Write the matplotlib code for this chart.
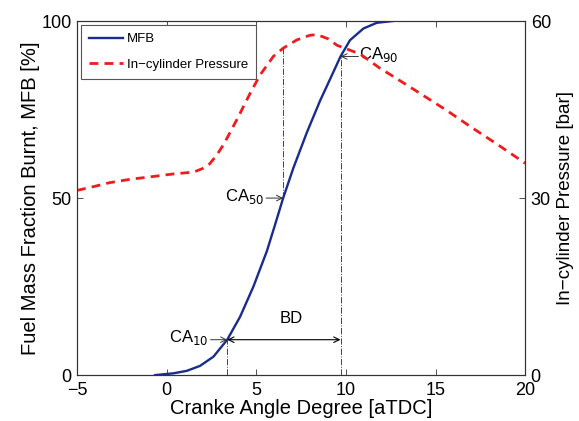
import numpy as np
import matplotlib
matplotlib.use('Agg')
import matplotlib.pyplot as plt

plt.rcParams['font.family'] = ['Liberation Sans', 'DejaVu Sans']

# mass fraction burnt [%] vs crank angle
mfb_ca = [-0.65, 0.37, 1.12, 1.86, 2.61, 3.38, 4.1, 4.84, 5.59, 6.05, 6.5,
          7.07, 7.82, 8.56, 9.21, 9.7, 10.23, 10.98, 11.72, 12.6]
mfb_val = [0.0, 0.5, 1.2, 2.6, 5.2, 10.0, 16.5, 25.0, 35.0, 42.5, 50.0,
           58.5, 68.5, 77.5, 84.6, 90.0, 94.6, 97.9, 99.5, 100.0]

# in-cylinder pressure [bar] vs crank angle
p_ca = [-5, -4, -3.2, -2, -0.9, 0.4, 1.5, 2.0, 2.4, 2.8, 3.2, 3.9, 4.65, 5.2,
        5.95, 6.5, 7.26, 8.0, 8.4, 9.0, 9.5, 10.8, 11.9, 12.65, 14.0, 15.6,
        17.0, 18.5, 20]
p_val = [31.3, 32.0, 32.6, 33.2, 33.6, 34.1, 34.4, 35.0, 35.8, 37.3, 39.2,
         43.2, 47.7, 50.8, 54.0, 55.4, 56.8, 57.6, 57.7, 57.0, 55.9, 54.4,
         52.0, 50.6, 48.0, 44.9, 42.0, 39.0, 35.9]

ca10, ca50, ca90 = 3.38, 6.5, 9.7

blue = '#1a2b8e'
red = '#ee1c1c'

fig = plt.figure(figsize=(5.79, 4.21), dpi=100)
ax1 = fig.add_axes([0.133, 0.109, 0.774, 0.841])
ax2 = ax1.twinx()

l1, = ax1.plot(mfb_ca, mfb_val, color=blue, lw=1.7, label='MFB', zorder=3)
l2, = ax2.plot(p_ca, p_val, color=red, lw=2.0, ls=(0, (3.2, 2.2)),
               label='In\u2212cylinder Pressure')

ax1.set_xlim(-5, 20)
ax1.set_ylim(0, 100)
ax2.set_ylim(0, 60)
ax1.set_xticks([-5, 0, 5, 10, 15, 20])
ax1.set_xticklabels(['\u22125', '0', '5', '10', '15', '20'])
ax1.set_yticks([0, 50, 100])
ax2.set_yticks([0, 30, 60])

for a in (ax1, ax2):
    a.tick_params(direction='in', labelsize=13, length=4, width=0.6,
                  color='#333333', pad=4)
    for s in a.spines.values():
        s.set_linewidth(0.8)
        s.set_color('#333333')
ax1.tick_params(top=True)
ax1.tick_params(axis='x', pad=5)

ax1.set_xlabel('Cranke Angle Degree [aTDC]', fontsize=14.5, labelpad=0)
ax1.set_ylabel('Fuel Mass Fraction Burnt, MFB [%]', fontsize=14.5, labelpad=1)
ax2.set_ylabel('In\u2212cylinder Pressure [bar]', fontsize=13.5, labelpad=4)

# vertical dash-dot markers
p50 = np.interp(ca50, p_ca, p_val) / 60 * 100
ax1.plot([ca10, ca10], [0, 10], color='#444444', lw=0.7, ls='-.')
ax1.plot([ca50, ca50], [50, p50], color='#444444', lw=0.7, ls='-.')
ax1.plot([ca90, ca90], [0, 90], color='#444444', lw=0.7, ls='-.')

# annotations
arr = dict(arrowstyle='->', color='#333333', lw=0.7, shrinkA=0, shrinkB=0)
ax1.annotate('', xy=(ca10, 10), xytext=(2.45, 10), arrowprops=arr)
ax1.text(2.35, 10.5, 'CA$_{10}$', fontsize=12, ha='right', va='center')
ax1.annotate('', xy=(ca50, 50), xytext=(5.55, 50), arrowprops=arr)
ax1.text(5.45, 50.5, 'CA$_{50}$', fontsize=12, ha='right', va='center')
ax1.annotate('', xy=(ca90, 90), xytext=(10.7, 90), arrowprops=arr)
ax1.text(10.75, 90.5, 'CA$_{90}$', fontsize=12, ha='left', va='center')

ax1.annotate('', xy=(ca10, 10), xytext=(ca90, 10),
             arrowprops=dict(arrowstyle='<->', color='black', lw=0.8,
                             shrinkA=0, shrinkB=0))
ax1.text(6.95, 16, 'BD', fontsize=12, ha='center', va='center')

leg = ax1.legend(handles=[l1, l2], loc='upper left', fontsize=9.5,
                 fancybox=False, edgecolor='#555555', framealpha=1,
                 borderaxespad=0.3, handlelength=2.6, handletextpad=0.3,
                 labelspacing=1.0, borderpad=0.6)
leg.get_frame().set_linewidth(0.8)

fig.savefig('out.png', dpi=100)
